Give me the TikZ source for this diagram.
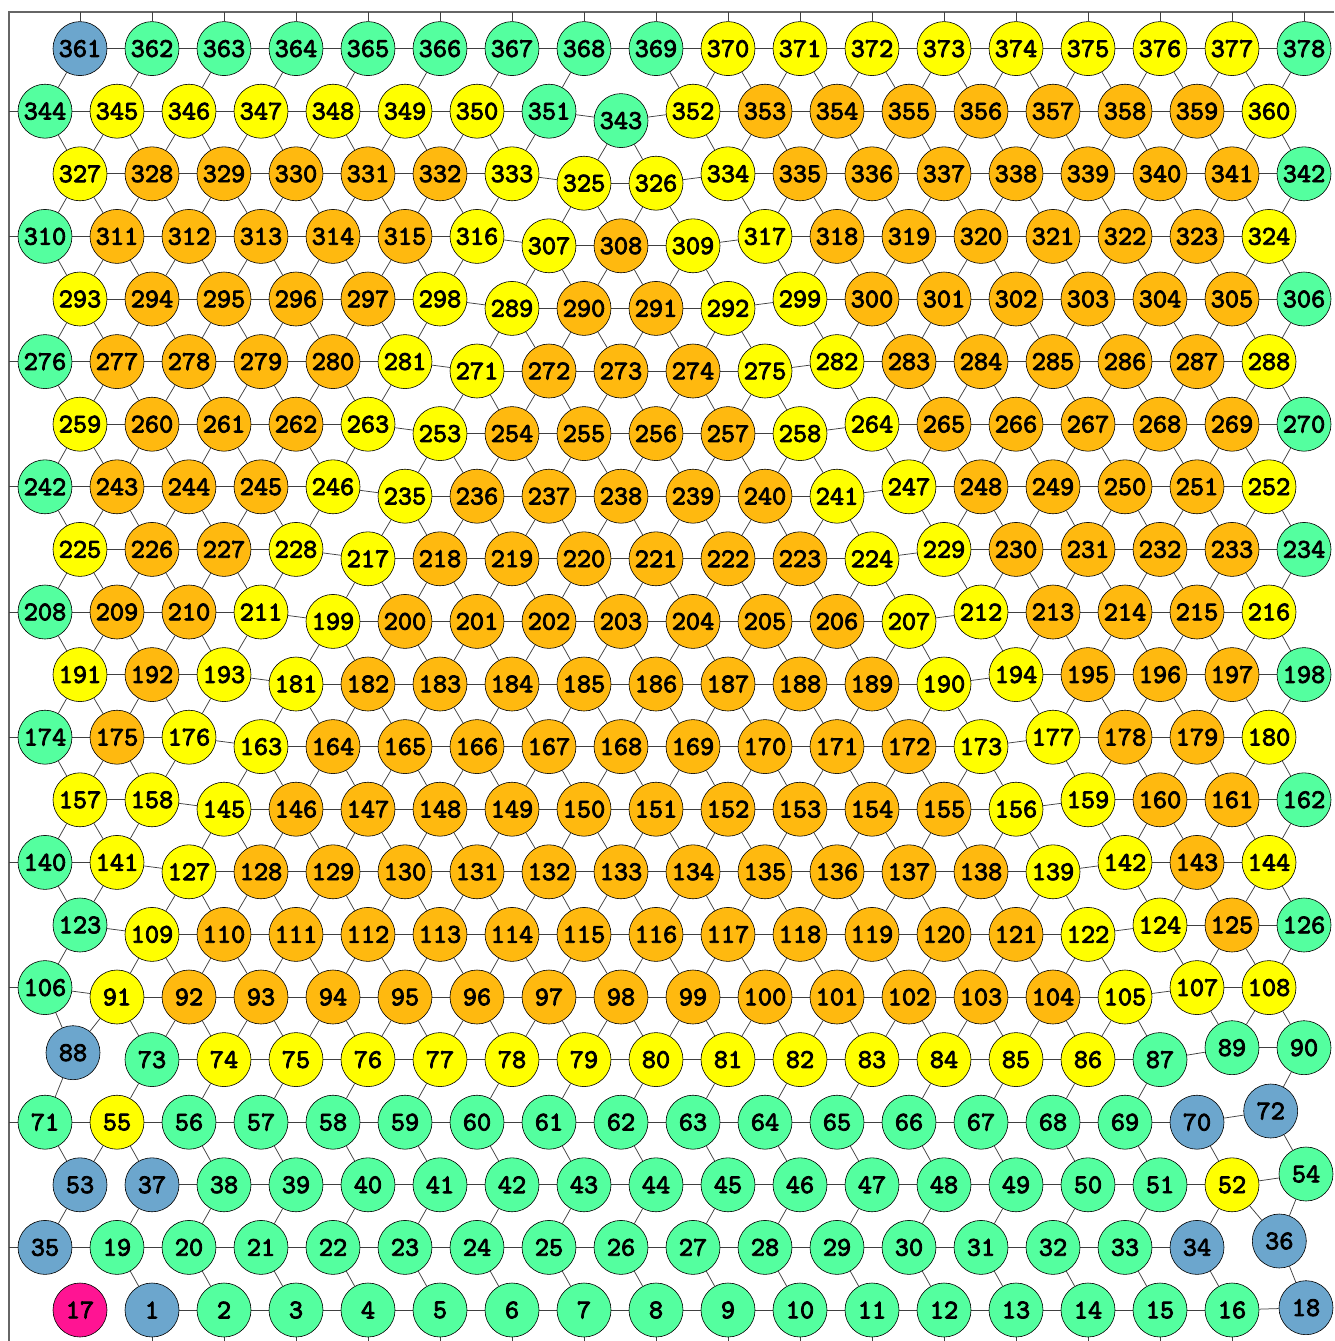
\documentclass[tikz,border=0pt]{standalone}
\usepackage{fontspec}
\newfontfamily\nf{lmmono10-regular.otf}[FakeBold=3]
\usetikzlibrary{calc}
\pgfdeclarelayer{bg}
\pgfsetlayers{bg,main}
\definecolor{cB}{RGB}{108,166,205}
\definecolor{cG}{RGB}{84,255,159}
\definecolor{cY}{RGB}{255,255,0}
\definecolor{cO}{RGB}{255,185,15}
\definecolor{cM}{RGB}{255,20,147}
\newcommand\SetFlag[1]{\expandafter\def\csname #1\endcsname{}}
\newcommand\Off[3]{\expandafter\def\csname dx#1\endcsname{#2}\expandafter\def\csname dy#1\endcsname{#3}}
\newcommand\MkRow[4]{%
 \foreach \lab/\col [count=\c] in {#4}{%
   \pgfmathsetmacro\X{ifthenelse(isodd(#1),80,45)+72*(\c-1)}%
   \pgfmathsetmacro\Y{1310-62.6*(#1-1)-ifthenelse(or(\c<#2,\c>#3),9.4,0)}%
   \ifcsname dx\lab\endcsname
     \pgfmathsetmacro\X{\X+\csname dx\lab\endcsname}%
     \pgfmathsetmacro\Y{\Y+\csname dy\lab\endcsname}%
   \fi
   \node[nd, fill=c\col] (g-#1-\c) at (\X,\Y) {\lab};
 }}
% position tweaks
\Off{18}{2}{-2.3}
\Off{36}{10.3}{-6.4}
\Off{54}{2}{-10.8}
\Off{72}{1.7}{-11.2}
\Off{88}{-7}{2.5}
\Off{89}{0}{-2.5}
\Off{90}{0}{-2.5}
% missing horizontal edges
\SetFlag{noH-1-1}\SetFlag{noH-2-17}\SetFlag{noH-3-1}\SetFlag{noH-5-1}
% missing backbone edges (r,c)-(r+1,c)
\SetFlag{noV-1-1}\SetFlag{noV-4-17}
\SetFlag{noV-7-2}\SetFlag{noV-9-3}\SetFlag{noV-11-4}\SetFlag{noV-13-5}
\SetFlag{noV-15-6}\SetFlag{noV-17-7}\SetFlag{noV-19-8}
\SetFlag{noV-6-16}\SetFlag{noV-8-15}\SetFlag{noV-10-14}\SetFlag{noV-12-13}
\SetFlag{noV-14-12}\SetFlag{noV-16-11}\SetFlag{noV-18-10}\SetFlag{noV-20-9}
% missing extra diagonals
\SetFlag{noE-6-2}\SetFlag{noE-8-3}\SetFlag{noE-10-4}\SetFlag{noE-12-5}
\SetFlag{noE-14-6}\SetFlag{noE-16-7}\SetFlag{noE-18-8}
\SetFlag{noE-5-16}\SetFlag{noE-7-15}\SetFlag{noE-9-14}\SetFlag{noE-11-13}
\SetFlag{noE-13-12}\SetFlag{noE-15-11}\SetFlag{noE-17-10}\SetFlag{noE-19-9}
\SetFlag{noE-20-2}\SetFlag{noE-20-3}\SetFlag{noE-20-4}\SetFlag{noE-20-5}
\SetFlag{noE-20-6}\SetFlag{noE-20-7}\SetFlag{noE-20-8}\SetFlag{noE-20-9}
\tikzset{
  nd/.style={circle, draw=black, line width=0.6pt, minimum size=54pt, inner sep=0pt,
             font=\nf\fontsize{27}{27}\selectfont},
  edge/.style={draw=black!75, line width=0.75pt},
  frame/.style={draw=black!60, line width=1.5pt},
}
\begin{document}
\begin{tikzpicture}[x=1pt,y=-1pt]
\useasboundingbox (0,0) rectangle (1334,1341);
\MkRow{1}{1}{18}{17/M,1/B,2/G,3/G,4/G,5/G,6/G,7/G,8/G,9/G,10/G,11/G,12/G,13/G,14/G,15/G,16/G,18/B}
\MkRow{2}{1}{18}{35/B,19/G,20/G,21/G,22/G,23/G,24/G,25/G,26/G,27/G,28/G,29/G,30/G,31/G,32/G,33/G,34/B,36/B}
\MkRow{3}{1}{18}{53/B,37/B,38/G,39/G,40/G,41/G,42/G,43/G,44/G,45/G,46/G,47/G,48/G,49/G,50/G,51/G,52/Y,54/G}
\MkRow{4}{1}{18}{71/G,55/Y,56/G,57/G,58/G,59/G,60/G,61/G,62/G,63/G,64/G,65/G,66/G,67/G,68/G,69/G,70/B,72/B}
\MkRow{5}{2}{16}{88/B,73/G,74/Y,75/Y,76/Y,77/Y,78/Y,79/Y,80/Y,81/Y,82/Y,83/Y,84/Y,85/Y,86/Y,87/G,89/G,90/G}
\MkRow{6}{2}{16}{106/G,91/Y,92/O,93/O,94/O,95/O,96/O,97/O,98/O,99/O,100/O,101/O,102/O,103/O,104/O,105/Y,107/Y,108/Y}
\MkRow{7}{2}{15}{123/G,109/Y,110/O,111/O,112/O,113/O,114/O,115/O,116/O,117/O,118/O,119/O,120/O,121/O,122/Y,124/Y,125/O,126/G}
\MkRow{8}{3}{15}{140/G,141/Y,127/Y,128/O,129/O,130/O,131/O,132/O,133/O,134/O,135/O,136/O,137/O,138/O,139/Y,142/Y,143/O,144/Y}
\MkRow{9}{3}{14}{157/Y,158/Y,145/Y,146/O,147/O,148/O,149/O,150/O,151/O,152/O,153/O,154/O,155/O,156/Y,159/Y,160/O,161/O,162/G}
\MkRow{10}{4}{14}{174/G,175/O,176/Y,163/Y,164/O,165/O,166/O,167/O,168/O,169/O,170/O,171/O,172/O,173/Y,177/Y,178/O,179/O,180/Y}
\MkRow{11}{4}{13}{191/Y,192/O,193/Y,181/Y,182/O,183/O,184/O,185/O,186/O,187/O,188/O,189/O,190/Y,194/Y,195/O,196/O,197/O,198/G}
\MkRow{12}{5}{13}{208/G,209/O,210/O,211/Y,199/Y,200/O,201/O,202/O,203/O,204/O,205/O,206/O,207/Y,212/Y,213/O,214/O,215/O,216/Y}
\MkRow{13}{5}{12}{225/Y,226/O,227/O,228/Y,217/Y,218/O,219/O,220/O,221/O,222/O,223/O,224/Y,229/Y,230/O,231/O,232/O,233/O,234/G}
\MkRow{14}{6}{12}{242/G,243/O,244/O,245/O,246/Y,235/Y,236/O,237/O,238/O,239/O,240/O,241/Y,247/Y,248/O,249/O,250/O,251/O,252/Y}
\MkRow{15}{6}{11}{259/Y,260/O,261/O,262/O,263/Y,253/Y,254/O,255/O,256/O,257/O,258/Y,264/Y,265/O,266/O,267/O,268/O,269/O,270/G}
\MkRow{16}{7}{11}{276/G,277/O,278/O,279/O,280/O,281/Y,271/Y,272/O,273/O,274/O,275/Y,282/Y,283/O,284/O,285/O,286/O,287/O,288/Y}
\MkRow{17}{7}{10}{293/Y,294/O,295/O,296/O,297/O,298/Y,289/Y,290/O,291/O,292/Y,299/Y,300/O,301/O,302/O,303/O,304/O,305/O,306/G}
\MkRow{18}{8}{10}{310/G,311/O,312/O,313/O,314/O,315/O,316/Y,307/Y,308/O,309/Y,317/Y,318/O,319/O,320/O,321/O,322/O,323/O,324/Y}
\MkRow{19}{8}{9}{327/Y,328/O,329/O,330/O,331/O,332/O,333/Y,325/Y,326/Y,334/Y,335/O,336/O,337/O,338/O,339/O,340/O,341/O,342/G}
\MkRow{20}{9}{9}{344/G,345/Y,346/Y,347/Y,348/Y,349/Y,350/Y,351/G,343/G,352/Y,353/O,354/O,355/O,356/O,357/O,358/O,359/O,360/Y}
\MkRow{21}{19}{0}{361/B,362/G,363/G,364/G,365/G,366/G,367/G,368/G,369/G,370/Y,371/Y,372/Y,373/Y,374/Y,375/Y,376/Y,377/Y,378/G}
\begin{pgfonlayer}{bg}
\draw[frame] (9,1341) -- (9,12) -- (1334,12);
% horizontal
\foreach \r in {1,...,21}{%
  \foreach \c in {1,...,17}{%
    \pgfmathtruncatemacro\cc{\c+1}%
    \ifcsname noH-\r-\c\endcsname\else\draw[edge] (g-\r-\c) -- (g-\r-\cc);\fi
  }}
% backbone diagonals
\foreach \r in {1,...,20}{%
  \pgfmathtruncatemacro\rr{\r+1}%
  \foreach \c in {1,...,18}{%
    \ifcsname noV-\r-\c\endcsname\else\draw[edge] (g-\r-\c) -- (g-\rr-\c);\fi
  }}
% extra diagonals
\foreach \r in {5,...,20}{%
  \pgfmathtruncatemacro\rr{\r+1}%
  \ifodd\r\relax
    \foreach \c in {1,...,17}{\pgfmathtruncatemacro\cc{\c+1}\ifcsname noE-\r-\c\endcsname\else\draw[edge] (g-\r-\c) -- (g-\rr-\cc);\fi}%
  \else
    \foreach \c in {2,...,18}{\pgfmathtruncatemacro\cc{\c-1}\ifcsname noE-\r-\c\endcsname\else\draw[edge] (g-\r-\c) -- (g-\rr-\cc);\fi}%
  \fi
}
\draw[edge] (g-3-1) -- (g-4-2);
\draw[edge] (g-2-18) -- (g-3-17);
% stubs leaving the frame
\foreach \c in {1,...,18}{%
  \coordinate (top\c) at (g-21-\c |- 0,12);
  \draw[edge] (g-21-\c) -- (top\c);
}
\foreach \c in {2,...,17}{%
  \coordinate (bot\c) at (g-1-\c |- 0,1341);
  \draw[edge] (g-1-\c) -- (bot\c);
}
\foreach \r in {2,4,...,20}{%
  \coordinate (lft\r) at (g-\r-1 -| 9,0);
  \draw[edge] (g-\r-1) -- (lft\r);
}
\end{pgfonlayer}
\end{tikzpicture}
\end{document}
